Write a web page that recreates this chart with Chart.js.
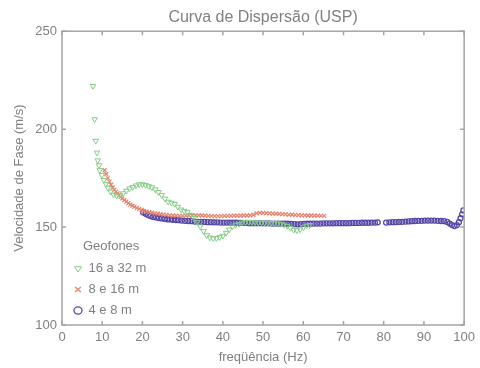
<!DOCTYPE html>
<html>
<head>
<meta charset="utf-8">
<title>Curva de Dispersão (USP)</title>
<script src="https://cdn.jsdelivr.net/npm/chart.js@4.4.0/dist/chart.umd.min.js"></script>
<style>
  html, body { margin: 0; padding: 0; background: #fff; }
</style>
</head>
<body>
<canvas id="chart" width="480" height="368"></canvas>
<script>
// Geofones 16 a 32 m
const freq16 = [7.7, 8.1, 8.4, 8.7, 8.9, 9.2, 9.4, 9.9, 10.4, 10.9, 11.4, 12.1, 12.8, 13.6, 14.4, 15.2, 16.0, 16.8, 17.6, 18.4,
  19.2, 20.0, 20.8, 21.6, 22.4, 23.2, 24.0, 24.8, 25.6, 26.4, 27.2, 28.0, 28.8, 29.6, 30.4, 31.2, 32.0, 32.8, 33.6, 34.4,
  35.2, 36.0, 36.8, 37.6, 38.4, 39.2, 40.0, 40.8, 41.6, 42.4, 43.2, 44.0, 44.8, 45.6, 46.4, 47.2, 48.0, 48.8, 49.6, 50.4,
  51.2, 52.0, 52.8, 53.6, 54.4, 55.2, 56.0, 56.8, 57.6, 58.4, 59.2, 60.0, 60.8, 61.6];
const vel16 = [222, 205, 194, 188, 184, 181.5, 179, 176.5, 174, 172, 170, 168, 166.5, 166, 166.3, 167.2, 168.5, 169.6, 170.4, 171.2,
  171.8, 171.8, 171.4, 170.8, 170.2, 169.2, 167.8, 166.3, 164.5, 162.9, 162.4, 161.8, 160.3, 158.9, 158.2, 157.6, 156.2, 154.6, 152.6, 150.3,
  147.9, 145.8, 144.6, 144.2, 144.3, 144.8, 145.5, 147, 148.7, 150.2, 151.1, 151.6, 152.2, 152.5, 152.6, 152.5, 152.4, 152.3, 152.2, 152.2,
  152.1, 152, 151.9, 151.8, 151.6, 151.2, 150.5, 149.5, 148.6, 148.3, 148.8, 149.8, 150.6, 151];

// Geofones 8 e 16 m
const freq8 = [10.6, 11.0, 11.4, 11.8, 12.2, 12.6, 13.0, 13.4, 13.8, 14.2, 14.6, 15.0, 15.5, 16.0, 16.5, 17.0, 17.5, 18.0, 18.6, 19.2,
  19.8, 20.4, 21.0, 21.7, 22.4, 23.1, 23.8, 24.5, 25.2, 26.0, 26.8, 27.6, 28.4, 29.2, 30.0, 30.8, 31.6, 32.4, 33.2, 34.0,
  34.8, 35.6, 36.4, 37.2, 38.0, 38.8, 39.6, 40.4, 41.2, 42.0, 42.8, 43.6, 44.4, 45.2, 46.0, 46.8, 47.6, 48.4, 49.2, 50.0,
  50.8, 51.6, 52.4, 53.2, 54.0, 54.8, 55.6, 56.4, 57.2, 58.0, 58.8, 59.6, 60.4, 61.2, 62.0, 62.8, 63.6, 64.4, 65.2];
const vel8 = [179, 177, 175, 173.2, 171.6, 170.2, 169, 168, 167.2, 166.3, 165.4, 164.6, 163.8, 163, 162.2, 161.5, 160.9, 160.3, 159.8, 159.3,
  158.8, 158.3, 157.9, 157.6, 157.3, 157, 156.8, 156.6, 156.4, 156.2, 156, 155.9, 155.8, 155.7, 155.7, 155.8, 155.9, 156, 156, 156,
  155.9, 155.8, 155.7, 155.6, 155.6, 155.6, 155.6, 155.7, 155.7, 155.7, 155.8, 155.8, 155.8, 155.9, 155.9, 156, 156.3, 157, 157.2, 157.2,
  157.1, 157, 156.9, 156.8, 156.7, 156.6, 156.5, 156.4, 156.3, 156.2, 156.1, 156, 156, 155.9, 155.9, 155.8, 155.8, 155.7, 155.7];

// Geofones 4 e 8 m
const freq4 = [20.2, 20.8, 21.4, 22.0, 22.7, 23.4, 24.1, 24.8, 25.5, 26.2, 26.9, 27.6, 28.3, 29.0, 29.8, 30.6, 31.4, 32.2, 33.0, 33.8,
  34.6, 35.4, 36.2, 37.0, 37.8, 38.6, 39.4, 40.2, 41.0, 41.8, 42.6, 43.4, 44.2, 45.0, 45.8, 46.6, 47.4, 48.2, 49.0, 49.8,
  50.6, 51.4, 52.2, 53.0, 53.8, 54.6, 55.4, 56.2, 57.0, 57.8, 58.6, 59.4, 60.2, 61.0, 61.8, 62.6, 63.4, 64.2, 65.0, 65.8,
  66.6, 67.4, 68.2, 69.0, 69.8, 70.6, 71.4, 72.2, 73.0, 73.8, 74.6, 75.4, 76.2, 77.0, 77.8, 78.5,
  80.6, 81.4, 82.2, 83.0, 83.8, 84.6, 85.4, 86.2, 87.0, 87.8, 88.6, 89.4, 90.2, 91.0, 91.8, 92.6, 93.4, 94.2, 95.0, 95.8,
  96.4, 97.0, 97.6, 98.2, 98.7, 99.1, 99.5, 99.8];
const vel4 = [157.5, 156.8, 156.1, 155.6, 155.2, 154.9, 154.6, 154.4, 154.2, 154, 153.9, 153.7, 153.6, 153.5, 153.3, 153.2, 153.1, 153, 152.8, 152.7,
  152.6, 152.6, 152.5, 152.5, 152.4, 152.4, 152.3, 152.3, 152.3, 152.2, 152.2, 152.2, 152.1, 152.1, 152.1, 152, 152, 152, 152, 151.9,
  151.9, 151.9, 151.8, 151.8, 151.8, 151.8, 151.7, 151.7, 151.6, 151.5, 151.4, 151.5, 151.6, 151.7, 151.7, 151.8, 151.8, 151.8, 151.9, 151.9,
  151.9, 151.9, 152, 152, 152, 152, 152, 152.1, 152.1, 152.1, 152.2, 152.2, 152.2, 152.3, 152.3, 152.4,
  152.3, 152.4, 152.5, 152.5, 152.6, 152.7, 152.8, 152.9, 153, 153.1, 153.2, 153.2, 153.3, 153.3, 153.3, 153.3, 153.2, 153.1, 153, 152.6,
  151.8, 151, 150.5, 151, 152.5, 154.5, 156.5, 158.5];

const xTicks = [0, 100, 10];   // min, max, step
const yTicks = [100, 250, 50];

const toPoints = (xs, ys) => xs.map((v, i) => ({x: v, y: ys[i]}));

const textColor = '#808080';
const boxColor = '#a4a4a4';

// matlab style frame with inward ticks on all four sides
const frame = {
  id: 'frame',
  afterLayout(chart) {
    // legend in 'chartArea' gets top = 0, put it back inside the axes
    const a = chart.chartArea, lg = chart.legend;
    lg.left = a.left + 4;
    lg.top = a.top;
    lg.bottom = a.bottom;
  },
  afterDatasetsDraw(chart) {
    const {ctx, chartArea: a, scales: {x, y}} = chart;
    ctx.save();
    ctx.strokeStyle = boxColor;
    ctx.lineWidth = 1.5;
    ctx.strokeRect(a.left, a.top, a.right - a.left, a.bottom - a.top);
    ctx.beginPath();
    x.ticks.forEach(t => {
      const px = x.getPixelForValue(t.value);
      ctx.moveTo(px, a.bottom); ctx.lineTo(px, a.bottom - 4);
      ctx.moveTo(px, a.top); ctx.lineTo(px, a.top + 4);
    });
    y.ticks.forEach(t => {
      const py = y.getPixelForValue(t.value);
      ctx.moveTo(a.left, py); ctx.lineTo(a.left + 4, py);
      ctx.moveTo(a.right, py); ctx.lineTo(a.right - 4, py);
    });
    ctx.stroke();
    ctx.restore();
  }
};

Chart.defaults.font.family = '"Liberation Sans", Arial, sans-serif';
Chart.defaults.color = textColor;

new Chart(document.getElementById('chart'), {
  type: 'scatter',
  data: {
    datasets: [{
      label: '16 a 32 m',
      data: toPoints(freq16, vel16),
      pointStyle: 'triangle',
      rotation: 180,
      radius: 3.2,
      borderWidth: 1,
      borderColor: '#86cc86',
      backgroundColor: 'rgba(0,0,0,0)'
    }, {
      label: '8 e 16 m',
      data: toPoints(freq8, vel8),
      pointStyle: 'crossRot',
      radius: 2.8,
      borderWidth: 1.2,
      borderColor: '#e4826c',
      backgroundColor: 'rgba(0,0,0,0)'
    }, {
      label: '4 e 8 m',
      data: toPoints(freq4, vel4),
      pointStyle: 'circle',
      radius: 2.5,
      borderWidth: 1.3,
      borderColor: '#5646a6',
      backgroundColor: 'rgba(0,0,0,0)'
    }]
  },
  options: {
    responsive: false,
    animation: false,
    layout: { padding: { left: 0, right: 14, top: 0, bottom: 0 } },
    plugins: {
      title: {
        display: true,
        text: 'Curva de Dispersão (USP)',
        fullSize: false,
        color: textColor,
        font: { size: 16, weight: 'normal' },
        padding: { top: 8, bottom: 4 }
      },
      legend: {
        position: 'chartArea',
        align: 'end',
        title: {
          display: true,
          text: 'Geofones',
          position: 'center',
          color: textColor,
          font: { size: 13 },
          padding: { top: 0, bottom: -2 }
        },
        labels: {
          usePointStyle: true,
          pointStyleWidth: 8,
          boxHeight: 5,
          padding: 8,
          color: textColor,
          font: { size: 13 }
        }
      },
      tooltip: { enabled: false }
    },
    scales: {
      x: {
        type: 'linear',
        min: xTicks[0],
        max: xTicks[1],
        grid: { display: false, drawTicks: false },
        border: { display: false },
        ticks: { stepSize: xTicks[2], padding: 5, font: { size: 13 }, color: textColor },
        title: { display: true, text: 'freqüência (Hz)', color: textColor, font: { size: 13 }, padding: { top: 0, bottom: 3 } },
        afterFit: s => { s.height = 43; }
      },
      y: {
        type: 'linear',
        min: yTicks[0],
        max: yTicks[1],
        grid: { display: false, drawTicks: false },
        border: { display: false },
        ticks: { stepSize: yTicks[2], padding: 5, font: { size: 13 }, color: textColor },
        title: { display: true, text: 'Velocidade de Fase (m/s)', color: textColor, font: { size: 13 }, padding: { top: 12, bottom: 0 } },
        afterFit: s => { s.width = 62; }
      }
    }
  },
  plugins: [frame]
});
</script>
</body>
</html>
